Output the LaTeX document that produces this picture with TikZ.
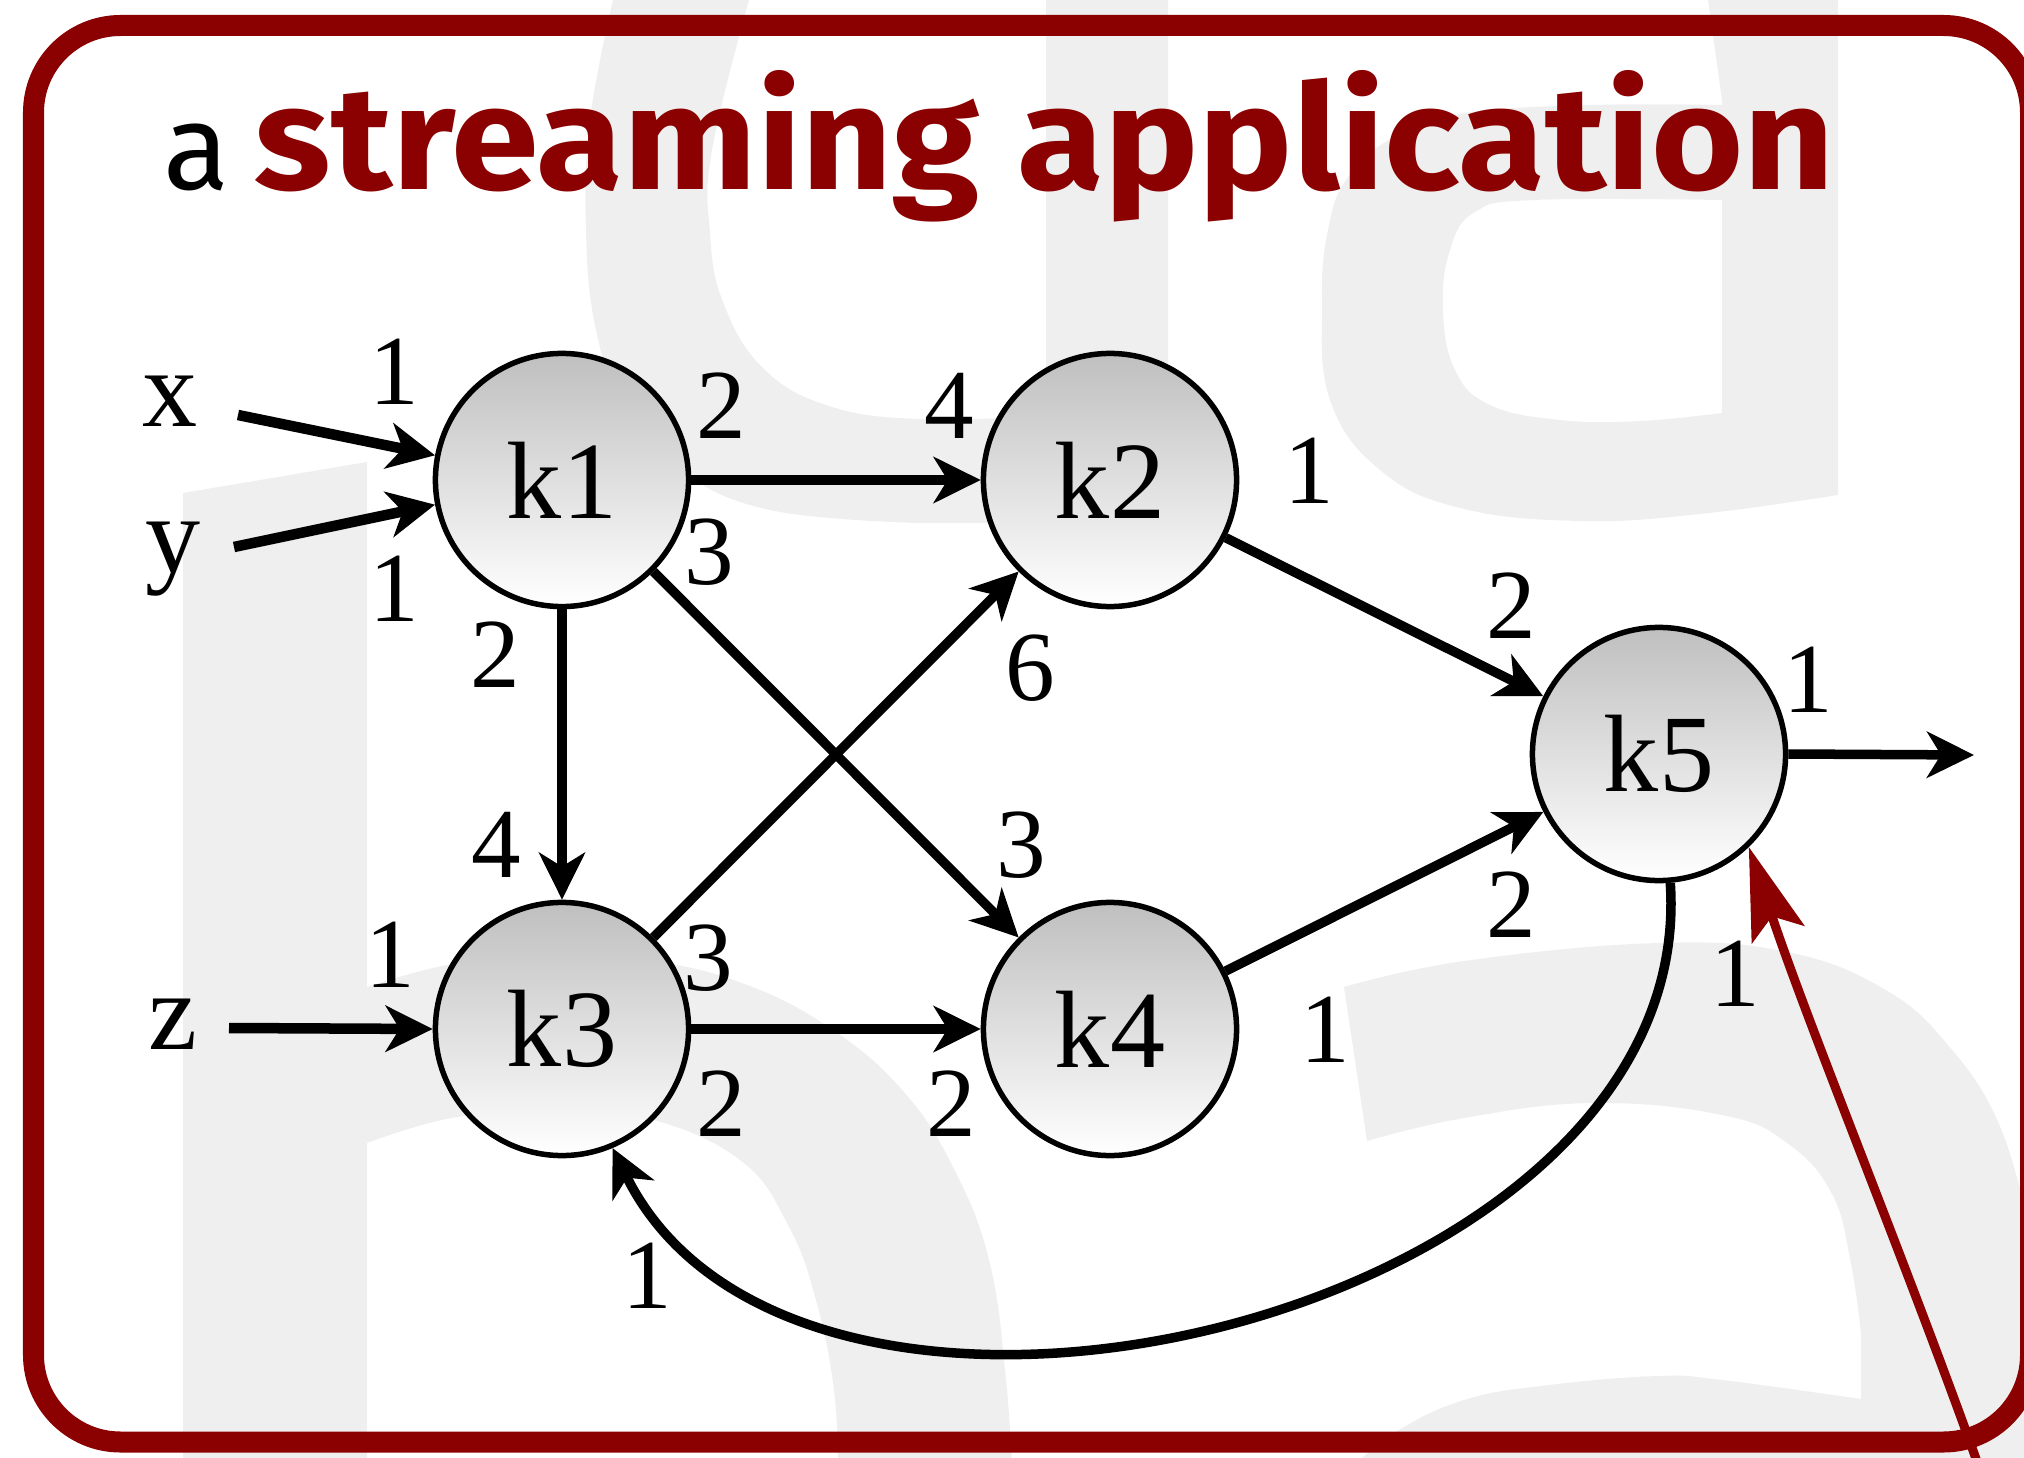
\documentclass[tikz,border=0pt]{standalone}
\usepackage{fontspec}
\usepackage{graphicx}
\usetikzlibrary{arrows.meta}
\newfontfamily\tms{Liberation Serif}
\newfontfamily\fira{Fira Sans}
\definecolor{dred}{RGB}{139,0,0}
\definecolor{bggray}{RGB}{239,239,239}
\begin{document}
\begin{tikzpicture}[x=0.01cm,y=-0.01cm,
  knode/.style={circle, draw=black, line width=0.055cm, minimum size=2.53cm, inner sep=0pt,
    top color=black!25, bottom color=white, font=\fontsize{31.3}{36}\tms},
  lab/.style={inner sep=0pt, font=\fontsize{28.2}{32}\tms},
  inlab/.style={inner sep=0pt, anchor=base, font=\fontsize{31.3}{36}\tms},
  edge/.style={line width=0.095cm, -{Stealth[length=0.47cm,width=0.46cm,inset=0.14cm]}},
  inedge/.style={edge, line width=0.105cm},
  fb/.style={draw=dred, line width=0.09cm, -{Stealth[length=0.92cm,width=0.55cm,inset=0.19cm,fill=dred]}},
  frm/.style={draw=dred, line width=0.21cm, rounded corners=0.87cm},
  titletext/.style={anchor=base west, inner sep=0pt}]
\useasboundingbox (0,0) rectangle (2024,1458);
\clip (0,0) rectangle (2024,1458);
% background letters
\fill[bggray] (613,0) -- plot[smooth,tension=0.7] coordinates {(613,0) (590,120) (586,230) (596,330) (625,410) (680,470) (770,510) (917,523)} -- (1168,523) -- (1168,0) -- (1046,0) -- (1046,416) -- plot[smooth,tension=0.7] coordinates {(1046,416) (917,419) (826,405) (762,367) (723,302) (710,233) (712,150) (749,0)} -- cycle;
\fill[bggray, even odd rule] (1708,0) -- (1722,100) -- plot[smooth,tension=0.7] coordinates {(1722,105) (1593,105) (1465,113) (1397,135) (1348,177) (1328,230) (1322,302) (1330,400) (1380,470) (1460,508) (1580,521) (1700,514) (1838,495)} -- (1838,0) -- cycle
  (1722,200) -- plot[smooth,tension=0.7] coordinates {(1722,200) (1535,200) (1475,212) (1450,250) (1443,310) (1455,370) (1490,405) (1560,420) (1640,421) (1722,413)} -- cycle;
\fill[bggray] (183,493) -- (367,462) -- (367,987) -- plot[smooth,tension=0.7] coordinates {(367,987) (452,964) (549,955) (646,960) (742,983) (830,1028) (904,1092) (955,1171) (990,1264) (1006,1380) (1012,1470)} -- (838,1470) -- plot[smooth,tension=0.7] coordinates {(838,1470) (834,1390) (816,1300) (788,1225) (740,1160) (646,1118) (549,1111) (452,1118) (367,1143)} -- (367,1470) -- (183,1470) -- cycle;
\fill[bggray] (1344,987) -- plot[smooth,tension=0.7] coordinates {(1344,987) (1464,961) (1658,943) (1787,952) (1884,989) (1948,1045) (1999,1124) (2030,1230)} -- (2040,1470) -- (1350,1470) -- plot[smooth,tension=0.7] coordinates {(1350,1470) (1394,1433) (1464,1400) (1549,1385) (1658,1376) (1722,1380) (1861,1399)} -- (1861,1334) -- plot[smooth,tension=0.7] coordinates {(1861,1334) (1851,1264) (1832,1194) (1787,1143) (1722,1115) (1593,1103) (1464,1118) (1367,1141)} -- cycle;
% frame
\draw[frm] (33.5,25.5) rectangle (2030.5,1442);
% title
\node[titletext] (ta) at (163,190) {\resizebox{!}{0.655cm}{\fira a}};
\node[titletext, text=dred] (tb) at (254,190) {\resizebox{15.79cm}{1.19cm}{\fira\bfseries streaming application}};
% nodes
\node[knode] (k1) at (562,480) {k1};
\node[knode] (k2) at (1110,480) {k2};
\node[knode] (k3) at (562,1029) {k3};
\node[knode] (k4) at (1110,1029) {k4};
\node[knode] (k5) at (1659,754) {k5};
% input labels
\node[inlab] (lx) at (170,426) {x};
\node[inlab] (ly) at (173,572) {y};
\node[inlab] (lz) at (173,1049) {z};
\coordinate (xs) at (238,415);
\coordinate (ys) at (234,547);
\coordinate (zs) at (229,1028);
\coordinate (oe) at (1974,755);
\coordinate (rs) at (1980,1470);
% edges
\draw[inedge] (xs) -- (k1.169);
\draw[inedge] (ys) -- (k1.191);
\draw[inedge] (zs) -- (k3.west);
\draw[edge] (k1) -- (k2);
\draw[edge] (k1) -- (k3);
\draw[edge] (k1) -- (k4);
\draw[edge] (k3) -- (k2);
\draw[edge] (k3) -- (k4);
\draw[edge] (k2) -- (k5);
\draw[edge] (k4) -- (k5);
\draw[edge] (k5.east) -- (oe);
\draw[edge] (k5.-85) .. controls (1700,1320) and (800,1530) .. (k3.-67);
% rate labels
\node[lab] at (394,372) {1};
\node[lab] at (394,589) {1};
\node[lab] at (721,406) {2};
\node[lab] at (949,406) {4};
\node[lab] at (709,552) {3};
\node[lab] at (495,655) {2};
\node[lab] at (1030,668) {6};
\node[lab] at (496,845) {4};
\node[lab] at (1021,845) {3};
\node[lab] at (390,955) {1};
\node[lab] at (708,958) {3};
\node[lab] at (721,1104) {2};
\node[lab] at (951,1104) {2};
\node[lab] at (1309,471) {1};
\node[lab] at (1511,606) {2};
\node[lab] at (1808,680) {1};
\node[lab] at (1511,905) {2};
\node[lab] at (1325,1030) {1};
\node[lab] at (1735,974) {1};
\node[lab] at (647,1276) {1};
% red feedback arrow
\draw[fb] (rs) .. controls (1905,1260) and (1810,1030) .. (k5.-46);
\end{tikzpicture}
\end{document}
